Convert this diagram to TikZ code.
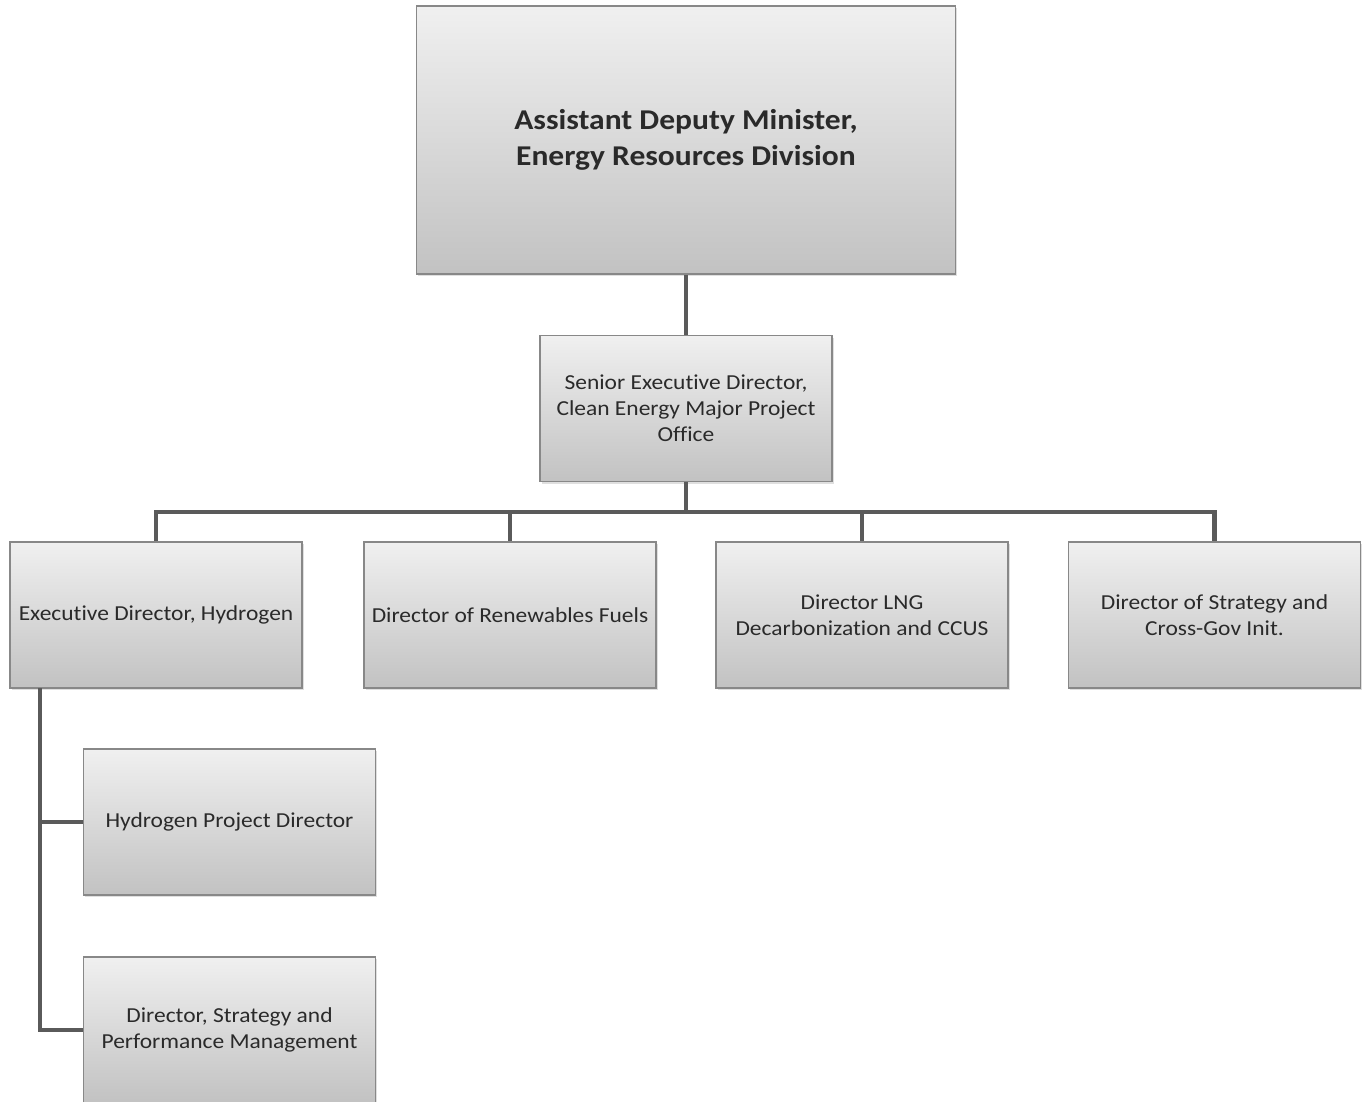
\documentclass[tikz,border=0pt]{standalone}
\usepackage{fontspec}
\setmainfont{Carlito}[FakeStretch=1.1, Ligatures=NoCommon]
\usetikzlibrary{shadows}
\definecolor{boxtop}{HTML}{F0F0F0}
\definecolor{boxbot}{HTML}{C2C2C2}
\definecolor{boxedge}{HTML}{888888}
\definecolor{linkgray}{HTML}{5A5A5A}
\definecolor{txt}{HTML}{2A2A2A}
\begin{document}
\begin{tikzpicture}[x=0.75pt,y=-0.75pt,
  orgbox/.style={draw=boxedge, line width=1.2pt, top color=boxtop, bottom color=boxbot,
    rectangle, inner sep=2pt, align=center, text=txt,
    minimum width=219pt, minimum height=109.5pt,
    font=\fontsize{16}{19.6}\selectfont,
    drop shadow={opacity=0.25, shadow xshift=1.2pt, shadow yshift=-1.8pt}},
  headbox/.style={orgbox, minimum width=404.25pt, minimum height=201pt,
    font=\fontsize{21.5}{26.5}\selectfont\bfseries},
  link/.style={draw=linkgray, line width=3.6pt}]
\useasboundingbox (0,0) rectangle (1367,1101);

% boxes
\node[headbox] (adm) at (686,140) {Assistant Deputy Minister,\\Energy Resources Division};
\node[orgbox] (sed) at (686,408.5) {Senior Executive Director,\\Clean Energy Major Project\\Office};
\node[orgbox] (edh) at (156,615) {Executive Director, Hydrogen};
\node[orgbox] (drf) at (510,615) {Director of Renewables Fuels};
\node[orgbox] (dlng) at (862,615) {Director LNG\\Decarbonization and CCUS};
\node[orgbox] (dsc) at (1214.5,615) {Director of Strategy and\\Cross-Gov Init.};
\node[orgbox] (hpd) at (229.5,822) {Hydrogen Project Director};
\node[orgbox] (dspm) at (229.5,1030) {Director, Strategy and\\Performance Management};

% connectors
\draw[link] (adm.south) -- (sed.north);
\coordinate (bus) at (686,512);
\foreach \c in {edh,drf,dlng,dsc}
  \draw[link] (sed.south) -- (bus) -| (\c.north);
\coordinate (trunk) at (40,688);
\draw[link] (trunk) |- (hpd.west);
\draw[link] (trunk) |- (dspm.west);
\end{tikzpicture}
\end{document}
